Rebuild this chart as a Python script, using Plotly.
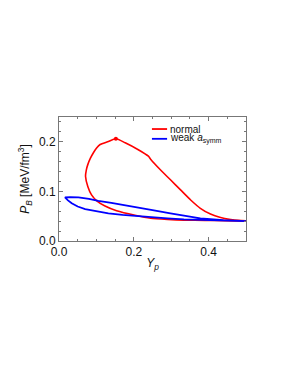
import plotly.graph_objects as go

# normal: closed loop, lower branch right->left, then upper branch back to the right
normal_yp = [0.500, 0.440, 0.390, 0.334, 0.290, 0.245, 0.203, 0.154, 0.123, 0.101, 0.087,
             0.077, 0.071, 0.073, 0.077, 0.084, 0.092, 0.100, 0.110, 0.130, 0.152, 0.177,
             0.212, 0.239, 0.245, 0.271, 0.298, 0.325, 0.352, 0.378, 0.405, 0.432, 0.459,
             0.480, 0.500]
normal_pb = [0.0400, 0.0410, 0.0415, 0.0420, 0.0435, 0.0460, 0.0520, 0.0610, 0.0705, 0.0810,
             0.0930, 0.1100, 0.1300, 0.1430, 0.1540, 0.1670, 0.1780, 0.1870, 0.1945, 0.2000,
             0.2060, 0.1980, 0.1840, 0.1710, 0.1650, 0.1437, 0.1234, 0.1030, 0.0827, 0.0659,
             0.0543, 0.0475, 0.0435, 0.0415, 0.0405]
peak_yp = [0.152]
peak_pb = [0.206]

weak_yp = [0.500, 0.440, 0.378, 0.334, 0.290, 0.250, 0.203, 0.170, 0.132, 0.100, 0.070,
           0.050, 0.034, 0.024, 0.016, 0.030, 0.052, 0.080, 0.105, 0.140, 0.177, 0.215,
           0.250, 0.298, 0.340, 0.378, 0.440, 0.500]
weak_pb = [0.0400, 0.0410, 0.0420, 0.0435, 0.0455, 0.0475, 0.0500, 0.0525, 0.0556, 0.0595,
           0.0645, 0.0695, 0.0760, 0.0820, 0.0880, 0.0885, 0.0880, 0.0850, 0.0810, 0.0770,
           0.0725, 0.0680, 0.0624, 0.0556, 0.0500, 0.0455, 0.0420, 0.0400]

series_names = ["normal", "weak <i>a</i><sub>symm</sub>"]
series_colors = ["#ff0000", "#0000ff"]

x_ticks = [0.0, 0.2, 0.4]
y_ticks = [0.0, 0.1, 0.2]

fig = go.Figure()
fig.add_trace(go.Scatter(x=normal_yp, y=normal_pb, mode="lines", name=series_names[0],
                         showlegend=False, line=dict(color=series_colors[0], width=1.6,
                                                     shape="spline", smoothing=0.6)))
fig.add_trace(go.Scatter(x=weak_yp, y=weak_pb, mode="lines", name=series_names[1],
                         showlegend=False, line=dict(color=series_colors[1], width=1.8)))
fig.add_trace(go.Scatter(x=peak_yp, y=peak_pb, mode="markers", showlegend=False,
                         marker=dict(color=series_colors[0], size=4)))

axis_common = dict(showgrid=False, zeroline=False, showline=True, linecolor="#777777",
                   linewidth=1, mirror="ticks", ticks="inside", ticklen=4, tickcolor="#777777",
                   tickfont=dict(size=12, color="#111111"), automargin=False)
fig.update_xaxes(range=[0, 0.5], tickvals=x_ticks, ticktext=[f"{v:.1f}" for v in x_ticks],
                 minor=dict(dtick=0.05, ticks="inside", ticklen=2, tickcolor="#777777"),
                 title=dict(text="<i>Y</i><sub><i>p</i></sub>", font=dict(size=12, color="#111111"),
                            standoff=0),
                 **axis_common)
fig.update_yaxes(range=[0, 0.25], tickvals=y_ticks, ticktext=[f"{v:.1f}" for v in y_ticks],
                 minor=dict(dtick=0.02, ticks="inside", ticklen=2, tickcolor="#777777"),
                 title=dict(text="<i>P</i><sub><i>B</i></sub> [MeV/fm<sup>3</sup>]",
                            font=dict(size=12, color="#111111"), standoff=6),
                 **axis_common)

# manual legend (short line samples as in the reference)
leg_y = [0.903, 0.824]
for name, color, yy in zip(series_names, series_colors, leg_y):
    fig.add_shape(type="line", xref="paper", yref="paper", x0=0.497, x1=0.578, y0=yy, y1=yy,
                  line=dict(color=color, width=1.8))
    fig.add_annotation(xref="paper", yref="paper", x=0.583, y=yy, text=name, showarrow=False,
                       xanchor="left", yanchor="middle", font=dict(size=10, color="#111111"))

fig.update_layout(
    width=283, height=371,
    margin=dict(l=51, r=45, t=109, b=138),
    paper_bgcolor="white", plot_bgcolor="white",
    font=dict(family="Liberation Sans, Arial, sans-serif", size=12, color="#111111"),
    showlegend=False,
)
fig.write_html("out.html")
